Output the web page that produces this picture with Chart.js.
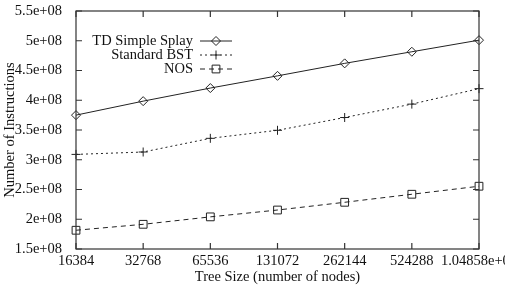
<!DOCTYPE html>
<html>
<head>
<meta charset="utf-8">
<script src="https://cdn.jsdelivr.net/npm/chart.js@4"></script>
<style>
  html, body { margin: 0; padding: 0; background: #fff; }
  #wrap { width: 505px; height: 286px; }
</style>
</head>
<body>
<div id="wrap"><canvas id="perf"></canvas></div>
<script>
const treeSizes = ['16384', '32768', '65536', '131072', '262144', '524288', '1.04858e+06'];
const tdSimpleSplay = [3.75e8, 3.985e8, 4.205e8, 4.41e8, 4.62e8, 4.815e8, 5.01e8];
const standardBst = [3.09e8, 3.13e8, 3.36e8, 3.495e8, 3.71e8, 3.935e8, 4.195e8];
const nos = [1.815e8, 1.915e8, 2.04e8, 2.155e8, 2.285e8, 2.42e8, 2.555e8];

const serif = '"Liberation Serif", "Times New Roman", serif';
const ink = '#222';
const fontSize = 14.5;

// gnuplot style frame with inward ticks on all four sides
const frameTicks = {
    id: 'frameTicks',
    afterDraw(chart) {
        const { ctx, chartArea: { left, right, top, bottom }, scales: { x, y } } = chart;
        ctx.save();
        ctx.strokeStyle = '#333';
        ctx.lineWidth = 1.2;
        ctx.strokeRect(left, top, right - left, bottom - top);
        ctx.beginPath();
        x.ticks.forEach((t, i) => {
            const px = x.getPixelForTick(i);
            ctx.moveTo(px, bottom); ctx.lineTo(px, bottom - 6);
            ctx.moveTo(px, top); ctx.lineTo(px, top + 6);
        });
        y.ticks.forEach((t, i) => {
            const py = y.getPixelForTick(i);
            ctx.moveTo(left, py); ctx.lineTo(left + 6, py);
            ctx.moveTo(right, py); ctx.lineTo(right - 6, py);
        });
        ctx.stroke();
        ctx.restore();
    }
};

// key in the top left, text right aligned, sample line after it
const keyBox = {
    id: 'keyBox',
    afterDraw(chart) {
        const { ctx, chartArea: { left, top } } = chart;
        ctx.save();
        ctx.font = fontSize + 'px ' + serif;
        ctx.textAlign = 'right';
        ctx.textBaseline = 'middle';
        chart.data.datasets.forEach((ds, i) => {
            const ly = top + 30 + i * 14;
            const tx = left + 117;
            ctx.fillStyle = '#111';
            ctx.fillText(ds.label, tx, ly);
            ctx.strokeStyle = ds.borderColor;
            ctx.lineWidth = ds.borderWidth;
            ctx.setLineDash(ds.borderDash || []);
            ctx.beginPath();
            ctx.moveTo(tx + 7, ly);
            ctx.lineTo(tx + 39, ly);
            ctx.stroke();
            ctx.setLineDash([]);
            ctx.fillStyle = 'rgba(0,0,0,0)';
            Chart.helpers.drawPoint(ctx, {
                pointStyle: ds.pointStyle,
                radius: ds.pointRadius,
                rotation: 0,
                borderWidth: 1
            }, tx + 23, ly);
        });
        ctx.restore();
    }
};

function series(label, data, style, radius, dash) {
    return {
        label: label,
        data: data,
        borderColor: ink,
        borderWidth: 1,
        borderDash: dash,
        pointStyle: style,
        pointRadius: radius,
        pointBorderColor: ink,
        pointBackgroundColor: 'rgba(0,0,0,0)',
        pointBorderWidth: 1,
        tension: 0,
        clip: false
    };
}

const perf = new Chart(document.getElementById('perf'), {
    type: 'line',
    data: {
        labels: treeSizes,
        datasets: [
            series('TD Simple Splay', tdSimpleSplay, 'rectRot', 4.5, []),
            series('Standard BST', standardBst, 'cross', 4.5, [2, 3]),
            series('NOS', nos, 'rect', 5.5, [5, 4])
        ]
    },
    options: {
        responsive: true,
        maintainAspectRatio: false,
        animation: false,
        layout: { padding: { top: 11, right: 26, left: 0, bottom: 0 } },
        plugins: {
            legend: { display: false },
            tooltip: { enabled: false }
        },
        scales: {
            x: {
                grid: { display: false },
                border: { display: false },
                ticks: {
                    color: '#111',
                    font: { family: serif, size: fontSize, lineHeight: 1.1 },
                    padding: -4,
                    maxRotation: 0,
                    autoSkip: false
                },
                title: {
                    display: true,
                    text: 'Tree Size (number of nodes)',
                    color: '#111',
                    font: { family: serif, size: fontSize, lineHeight: 1.1 },
                    padding: { top: 0, bottom: 1 }
                },
                afterFit(scale) {
                    scale.height = 37;
                    scale.paddingLeft = 0;
                    scale.paddingRight = 0;
                }
            },
            y: {
                min: 1.5e8,
                max: 5.5e8,
                grid: { display: false },
                border: { display: false },
                ticks: {
                    stepSize: 0.5e8,
                    color: '#111',
                    font: { family: serif, size: fontSize },
                    padding: 6,
                    callback: (v) => (v / 1e8) + 'e+08'
                },
                title: {
                    display: true,
                    text: 'Number of Instructions',
                    color: '#111',
                    font: { family: serif, size: fontSize, lineHeight: 1.1 },
                    padding: { top: 2, bottom: 0 }
                },
                afterFit(scale) {
                    scale.width = 76;
                    scale.paddingTop = 0;
                    scale.paddingBottom = 0;
                }
            }
        }
    },
    plugins: [frameTicks, keyBox]
});
</script>
</body>
</html>
